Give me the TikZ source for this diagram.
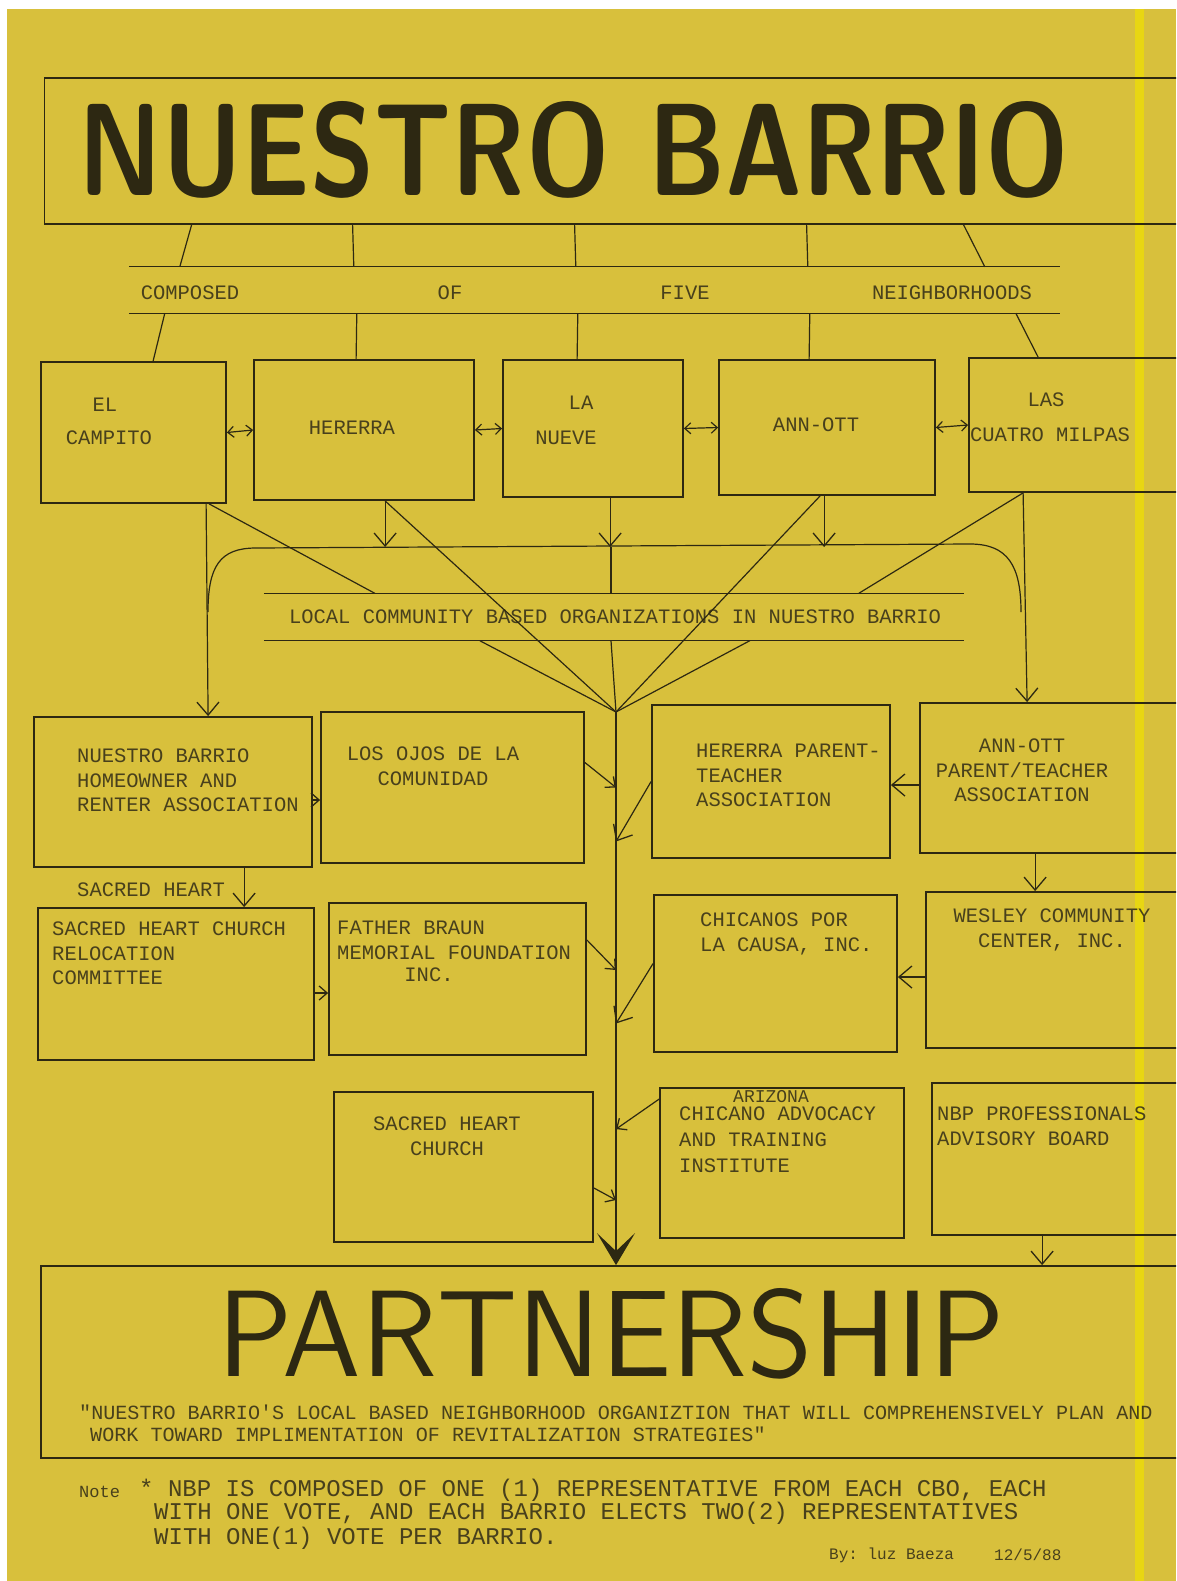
\documentclass[tikz,border=0pt]{standalone}
\usepackage{fontspec}
\setmonofont{Liberation Mono}
\usepackage{graphicx}
\usetikzlibrary{arrows.meta}

\definecolor{paper}{RGB}{216,192,60}
\definecolor{stripe}{RGB}{232,214,18}
\definecolor{ink}{RGB}{45,40,18}
\definecolor{typeink}{RGB}{72,64,28}

\tikzset{
  box/.style={draw=ink, line width=1.8pt, inner sep=0pt},
  tw/.style={font=\fontsize{20.5}{24.5}\selectfont\ttfamily, text=typeink, inner sep=0pt},
  notefont/.style={font=\fontsize{24}{24.5}\selectfont\ttfamily, text=typeink, inner sep=0pt, anchor=west},
  link/.style={draw=ink, line width=1.2pt},
  arr/.style={link, -{Straight Barb[length=13pt,width=22pt,line width=1.3pt]}},
  sarr/.style={link, -{Straight Barb[length=8pt,width=14pt,line width=1.3pt]}},
  dbl/.style={link, {Straight Barb[length=6pt,width=11pt]}-{Straight Barb[length=6pt,width=11pt]}},
}

\begin{document}
\begin{tikzpicture}[x=1pt,y=-1pt]
\useasboundingbox (0,0) rectangle (1176,1581);
\clip (0,0) rectangle (1176,1581);

% paper
\fill[white] (0,0) rectangle (1176,1581);
\fill[paper] (7,9) rectangle (1176,1581);
\fill[stripe] (1135,9) rectangle (1144,1581);

% title
\node[box, minimum width=1135pt, minimum height=146pt] (title) at (612,151) {};
\node[text=ink, inner sep=0pt] (titletext) at (574,150)
  {\resizebox{990pt}{94pt}{\sffamily\bfseries NUESTRO BARRIO}};

% composed of five neighborhoods
\node[minimum width=931pt, minimum height=46pt, inner sep=0pt] (band) at (594.5,290) {};
\draw[link] (band.north west) -- (band.north east);
\draw[link] (band.south west) -- (band.south east);
\node[tw] (composed) at (190,293) {COMPOSED};
\node[tw] (of) at (450,293) {OF};
\node[tw] (five) at (685,293) {FIVE};
\node[tw] (neighborhoods) at (952,293) {NEIGHBORHOODS};

\foreach \a/\b in {148/51, 309/225, 531/447, 763/679, 920/856}
  \draw[link] ([xshift=\a pt]title.south west) -- ([xshift=\b pt]band.north west);

% neighborhoods
\node[box, minimum width=185pt, minimum height=141pt] (campito) at (133.5,432.5) {};
\node[box, minimum width=220pt, minimum height=140pt] (hererra) at (364,430) {};
\node[box, minimum width=180pt, minimum height=137pt] (nueve) at (593,428.5) {};
\node[box, minimum width=216pt, minimum height=135pt] (annott) at (827,427.5) {};
\node[box, minimum width=230pt, minimum height=134pt] (milpas) at (1084,425) {};

\node[tw] (el) at (105,405) {EL};
\node[tw] (campitotext) at (109,438) {CAMPITO};
\node[tw] (hererratext) at (352,428) {HERERRA};
\node[tw] (la) at (581,403) {LA};
\node[tw] (nuevetext) at (566,438) {NUEVE};
\node[tw] (annotttext) at (816,425) {ANN-OTT};
\node[tw] (las) at (1046,400) {LAS};
\node[tw] (cuatro) at (1050,435) {CUATRO MILPAS};

\draw[link] ([xshift=36pt]band.south west) -- ([xshift=113pt]campito.north west);
\draw[link] ([xshift=228pt]band.south west) -- ([xshift=103pt]hererra.north west);
\draw[link] ([xshift=449pt]band.south west) -- ([xshift=75pt]nueve.north west);
\draw[link] ([xshift=681pt]band.south west) -- ([xshift=91pt]annott.north west);
\draw[link] ([xshift=887pt]band.south west) -- ([xshift=70pt]milpas.north west);

\draw[dbl] (campito.east) -- (hererra.west);
\draw[dbl] (hererra.east) -- (nueve.west);
\draw[dbl] (nueve.east) -- (annott.west);
\draw[dbl] (annott.east) -- (milpas.west);

% local community based organizations
\coordinate (brk) at (611,547);
\coordinate (conv) at (616,712);
\draw[link] (208,612) .. controls (208,566) and (220,548) .. (256,548)
  -- (970,544) .. controls (1008,544) and (1021,566) .. (1021,612);
\draw[arr] ([xshift=132pt]hererra.south west) coordinate (h1) -- (h1 |- brk);
\draw[arr] ([xshift=108pt]nueve.south west) coordinate (n1) -- (n1 |- brk);
\draw[arr] ([xshift=106pt]annott.south west) coordinate (a1) -- (a1 |- brk);

\node[minimum width=700pt, minimum height=47pt, inner sep=0pt] (cbo) at (614,617) {};
\draw[link] (cbo.north west) -- (cbo.north east);
\draw[link] (cbo.south west) -- (cbo.south east);
\node[tw] (cbotext) at (615,617) {LOCAL COMMUNITY BASED ORGANIZATIONS IN NUESTRO BARRIO};

\draw[link] (brk) -- (brk |- cbo.north);
\draw[link] (brk |- cbo.south) -- (conv);
\draw[link] ([xshift=169pt]campito.south west) -- ([xshift=111pt]cbo.north west);
\draw[link] ([xshift=55pt]milpas.south west) -- ([xshift=595pt]cbo.north west);
\draw[link] ([xshift=132pt]hererra.south west) -- (conv);
\draw[link] ([xshift=102pt]annott.south west) -- (conv);
\draw[link] ([xshift=216pt]cbo.south west) -- (conv);
\draw[link] ([xshift=486pt]cbo.south west) -- (conv);

% organizations
\node[box, minimum width=278pt, minimum height=150pt] (nbhra) at (173,792) {};
\node[box, minimum width=263pt, minimum height=151pt] (ojos) at (452.5,787.5) {};
\node[box, minimum width=238pt, minimum height=153pt] (hpta) at (771,781.5) {};
\node[box, minimum width=270pt, minimum height=150pt] (apta) at (1055,778) {};
\node[box, minimum width=276pt, minimum height=152pt] (shrc) at (176,984) {};
\node[box, minimum width=257pt, minimum height=152pt] (braun) at (457.5,979) {};
\node[box, minimum width=243pt, minimum height=157pt] (cplc) at (775.5,973.5) {};
\node[box, minimum width=264pt, minimum height=156pt] (wesley) at (1058,970) {};
\node[box, minimum width=259pt, minimum height=150pt] (shchurch) at (463.5,1167) {};
\node[box, minimum width=244pt, minimum height=150pt] (acati) at (782,1163) {};
\node[box, minimum width=258pt, minimum height=152pt] (nbp) at (1061,1159) {};

\node[tw, align=left, anchor=north west] (nbhratext) at (77,749)
  {NUESTRO BARRIO\\HOMEOWNER AND\\RENTER ASSOCIATION};
\node[tw, align=center, anchor=north] (ojostext) at (433,747)
  {LOS OJOS DE LA\\COMUNIDAD};
\node[tw, align=left, anchor=north west] (hptatext) at (696,744)
  {HERERRA PARENT-\\TEACHER\\ASSOCIATION};
\node[tw, align=center, anchor=north] (aptatext) at (1022,739)
  {ANN-OTT\\PARENT/TEACHER\\ASSOCIATION};
\node[tw, anchor=west] (sacredheart) at (77,890) {SACRED HEART};
\node[tw, align=left, anchor=north west] (shrctext) at (52,922)
  {SACRED HEART CHURCH\\RELOCATION\\COMMITTEE};
\node[tw, align=left, anchor=north west] (brauntext) at (337,921)
  {FATHER BRAUN\\MEMORIAL FOUNDATION};
\node[tw] (brauninc) at (429,975) {INC.};
\node[tw, align=left, anchor=north west] (cplctext) at (700,913)
  {CHICANOS POR\\LA CAUSA, INC.};
\node[tw, align=center, anchor=north] (wesleytext) at (1052,909)
  {WESLEY COMMUNITY\\CENTER, INC.};
\node[tw, align=center, anchor=north] (shchurchtext) at (447,1117)
  {SACRED HEART\\CHURCH};
\node[tw, font=\fontsize{18}{20}\selectfont\ttfamily] (arizona) at (771,1097) {ARIZONA};
\node[tw, font=\fontsize{20.5}{26}\selectfont\ttfamily, align=left, anchor=north west] (acatitext) at (679,1107)
  {CHICANO ADVOCACY\\AND TRAINING\\INSTITUTE};
\node[tw, align=left, anchor=north west] (nbptext) at (937,1107)
  {NBP PROFESSIONALS\\ADVISORY BOARD};

\draw[arr] ([xshift=166pt]campito.south west) -- ([xshift=175pt]nbhra.north west);
\draw[arr] ([xshift=55pt]milpas.south west) -- ([xshift=108pt]apta.north west);

\draw[sarr] ([yshift=-8pt]nbhra.east) -- ([yshift=-12.5pt]ojos.west);
\draw[arr] ([xshift=211pt]nbhra.south west) -- ([xshift=207pt]shrc.north west);
\draw[sarr] ([yshift=-9pt]shrc.east) -- ([yshift=-14pt]braun.west);
\draw[arr] ([yshift=-7pt]apta.west) -- ([yshift=-3.5pt]hpta.east);
\draw[arr] ([xshift=116pt]apta.south west) -- ([xshift=110pt]wesley.north west);
\draw[arr] ([yshift=-7pt]wesley.west) -- ([yshift=-3.5pt]cplc.east);

% into the spine
\draw[sarr] ([yshift=25pt]ojos.east) -- (conv |- ojos.east);
\draw[arr] (hpta.west) -- ([yshift=-60pt]conv |- hpta.west);
\draw[sarr] ([yshift=39pt]braun.east) -- ([yshift=9pt]conv |- braun.east);
\draw[arr] ([yshift=10pt]cplc.west) -- ([yshift=-50pt]conv |- cplc.west);
\draw[sarr] ([yshift=-21pt]shchurch.east) -- ([yshift=-33pt]conv |- shchurch.east);
\draw[sarr] ([yshift=-12pt]acati.north west) -- ([yshift=-42pt]conv |- acati.north west);

% partnership
\node[box, minimum width=1149pt, minimum height=192pt] (partner) at (615.5,1362) {};
\node[text=ink, inner sep=0pt] (partnertext) at (611,1334)
  {\resizebox{787pt}{88pt}{\sffamily PARTNERSHIP}};
\node[tw, font=\fontsize{20.1}{24}\selectfont\ttfamily, anchor=west] (quote1) at (79,1412)
  {"NUESTRO BARRIO'S LOCAL BASED NEIGHBORHOOD ORGANIZTION THAT WILL COMPREHENSIVELY PLAN AND};
\node[tw, font=\fontsize{20.1}{24}\selectfont\ttfamily, anchor=west] (quote2) at (90,1434)
  {WORK TOWARD IMPLIMENTATION OF REVITALIZATION STRATEGIES"};

\draw[link, -{Stealth[length=32pt,width=38pt,inset=18pt]}] (conv) -- (conv |- partner.north);
\draw[arr] ([xshift=111pt]nbp.south west) coordinate (b1) -- (b1 |- partner.north);

% note
\node[tw, font=\fontsize{17}{20}\selectfont\ttfamily, anchor=west] (notelabel) at (79,1492) {Note};
\node[notefont] (note1) at (139,1490) {* NBP IS COMPOSED OF ONE (1) REPRESENTATIVE FROM EACH CBO, EACH};
\node[notefont] (note2) at (154,1513) {WITH ONE VOTE, AND EACH BARRIO ELECTS TWO(2) REPRESENTATIVES};
\node[notefont] (note3) at (154,1538) {WITH ONE(1) VOTE PER BARRIO.};
\node[tw, font=\fontsize{16}{20}\selectfont\ttfamily, anchor=west] (byline) at (829,1555) {By: luz Baeza};
\node[tw, font=\fontsize{16}{20}\selectfont\ttfamily, anchor=west] (date) at (994,1555) {12/5/88};
\end{tikzpicture}
\end{document}
